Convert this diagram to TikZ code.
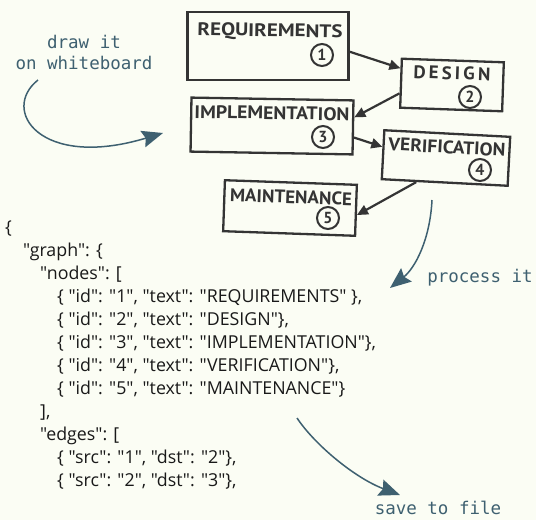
\documentclass[tikz,border=0pt]{standalone}
\usepackage{fontspec}
\usepackage{graphicx}
\usetikzlibrary{arrows.meta,calc}
\setmainfont{Open Sans}[Ligatures=TeXOff]
\newfontfamily\jsf{Open Sans}[Ligatures=TeXOff]
\newfontfamily\monof{DejaVu Sans Mono}
\newfontfamily\handf{PT Sans}
\definecolor{tealink}{HTML}{3E6070}
\definecolor{ink}{HTML}{343434}
\definecolor{paper}{HTML}{FBFDF4}
\newcommand{\hw}[2]{\resizebox{#1pt}{13pt}{\handf\bfseries #2}}
\begin{document}
\begin{tikzpicture}[x=1pt,y=-1pt,
  box/.style={draw=ink,line width=2.3pt,inner sep=0pt},
  lbl/.style={inner sep=0pt,text=ink},
  num/.style={circle,draw=ink,line width=2pt,minimum size=22pt,inner sep=0pt,text=ink,font=\handf\bfseries\fontsize{16}{16}\selectfont},
  flow/.style={draw=ink,line width=2.2pt,-{Triangle[length=11pt,width=10pt]}},
  tarrow/.style={draw=tealink,line width=1.5pt,-{Stealth[length=21pt,width=17pt,inset=3pt]}},
  tnote/.style={text=tealink,font=\monof\fontsize{17.5}{21}\selectfont,align=center,inner sep=0pt},
  js/.style={anchor=base west,inner sep=0pt,text=black!90,font=\jsf\fontsize{17.8}{17.8}\selectfont}]
\fill[paper] (0,0) rectangle (536,520);
\useasboundingbox (0,0) rectangle (536,520);

% boxes
\node[box,minimum width=161pt,minimum height=68pt,rotate=0] (req) at (268,46) {};
\node[box,minimum width=102pt,minimum height=49pt,rotate=-2] (des) at (452,85) {};
\node[box,minimum width=162pt,minimum height=54pt,rotate=-1] (imp) at (272,126) {};
\node[box,minimum width=126pt,minimum height=49pt,rotate=-3] (ver) at (446,158) {};
\node[box,minimum width=132pt,minimum height=51pt,rotate=-2] (mai) at (290,208) {};

% labels
\node[lbl,rotate=-1] (reqt) at (270,32) {\hw{145}{REQUIREMENTS}};
\node[lbl,rotate=-2] (dest) at (452,73) {\hw{77}{D\,E\,S\,I\,G\,N}};
\node[lbl,rotate=-1] (impt) at (272,113) {\hw{155}{IMPLEMENTATION}};
\node[lbl,rotate=-3] (vert) at (447,147) {\hw{117}{VERIFICATION}};
\node[lbl,rotate=-2] (mait) at (291,197) {\hw{122}{MAINTENANCE}};

\node[num] (n1) at (322,55) {1};
\node[num] (n2) at (470,97) {2};
\node[num] (n3) at (323,137) {3};
\node[num] (n4) at (480,170) {4};
\node[num] (n5) at (328,218) {5};

% flow arrows
\draw[flow] (req.-4) -- (des.164);
\draw[flow] (des.191) -- (imp.7);
\draw[flow] (imp.-7) -- (ver.173);
\draw[flow] (ver.222) -- (mai.-4);

% teal notes
\node[tnote] (wb) at (84,52) {draw it\\on whiteboard};
\node[tnote] (proc) at (480,278) {process it};
\node[tnote] (save) at (438,508) {save to file};

\coordinate (a1s) at (38,80);
\coordinate (a1e) at (163,133);
\draw[tarrow] (a1s) .. controls (0,110) and (40,170) .. (a1e);
\coordinate (a2s) at (432,200);
\coordinate (a2e) at (390,288);
\draw[tarrow] (a2s) .. controls (430,240) and (415,268) .. (a2e);
\coordinate (a3s) at (297,418);
\coordinate (a3e) at (400,495);
\draw[tarrow] (a3s) .. controls (315,445) and (355,478) .. (a3e);

% json
\node[js] (j0) at (5,233) {\{};
\node[js] (j1) at (23,256) {"graph": \{};
\node[js] (j2) at (40,279) {"nodes": [};
\node[js] (j3) at (57,302) {\{ "id": "1", "text": "REQUIREMENTS" \},};
\node[js] (j4) at (57,325.1) {\{ "id": "2", "text": "DESIGN"\},};
\node[js] (j5) at (57,348.2) {\{ "id": "3", "text": "IMPLEMENTATION"\},};
\node[js] (j6) at (57,371.3) {\{ "id": "4", "text": "VERIFICATION"\},};
\node[js] (j7) at (57,394.4) {\{ "id": "5", "text": "MAINTENANCE"\}};
\node[js] (j8) at (40,417.5) {],};
\node[js] (j9) at (40,440.6) {"edges": [};
\node[js] (j10) at (57,463.7) {\{ "src": "1", "dst": "2"\},};
\node[js] (j11) at (57,486.8) {\{ "src": "2", "dst": "3"\},};
\end{tikzpicture}
\end{document}
